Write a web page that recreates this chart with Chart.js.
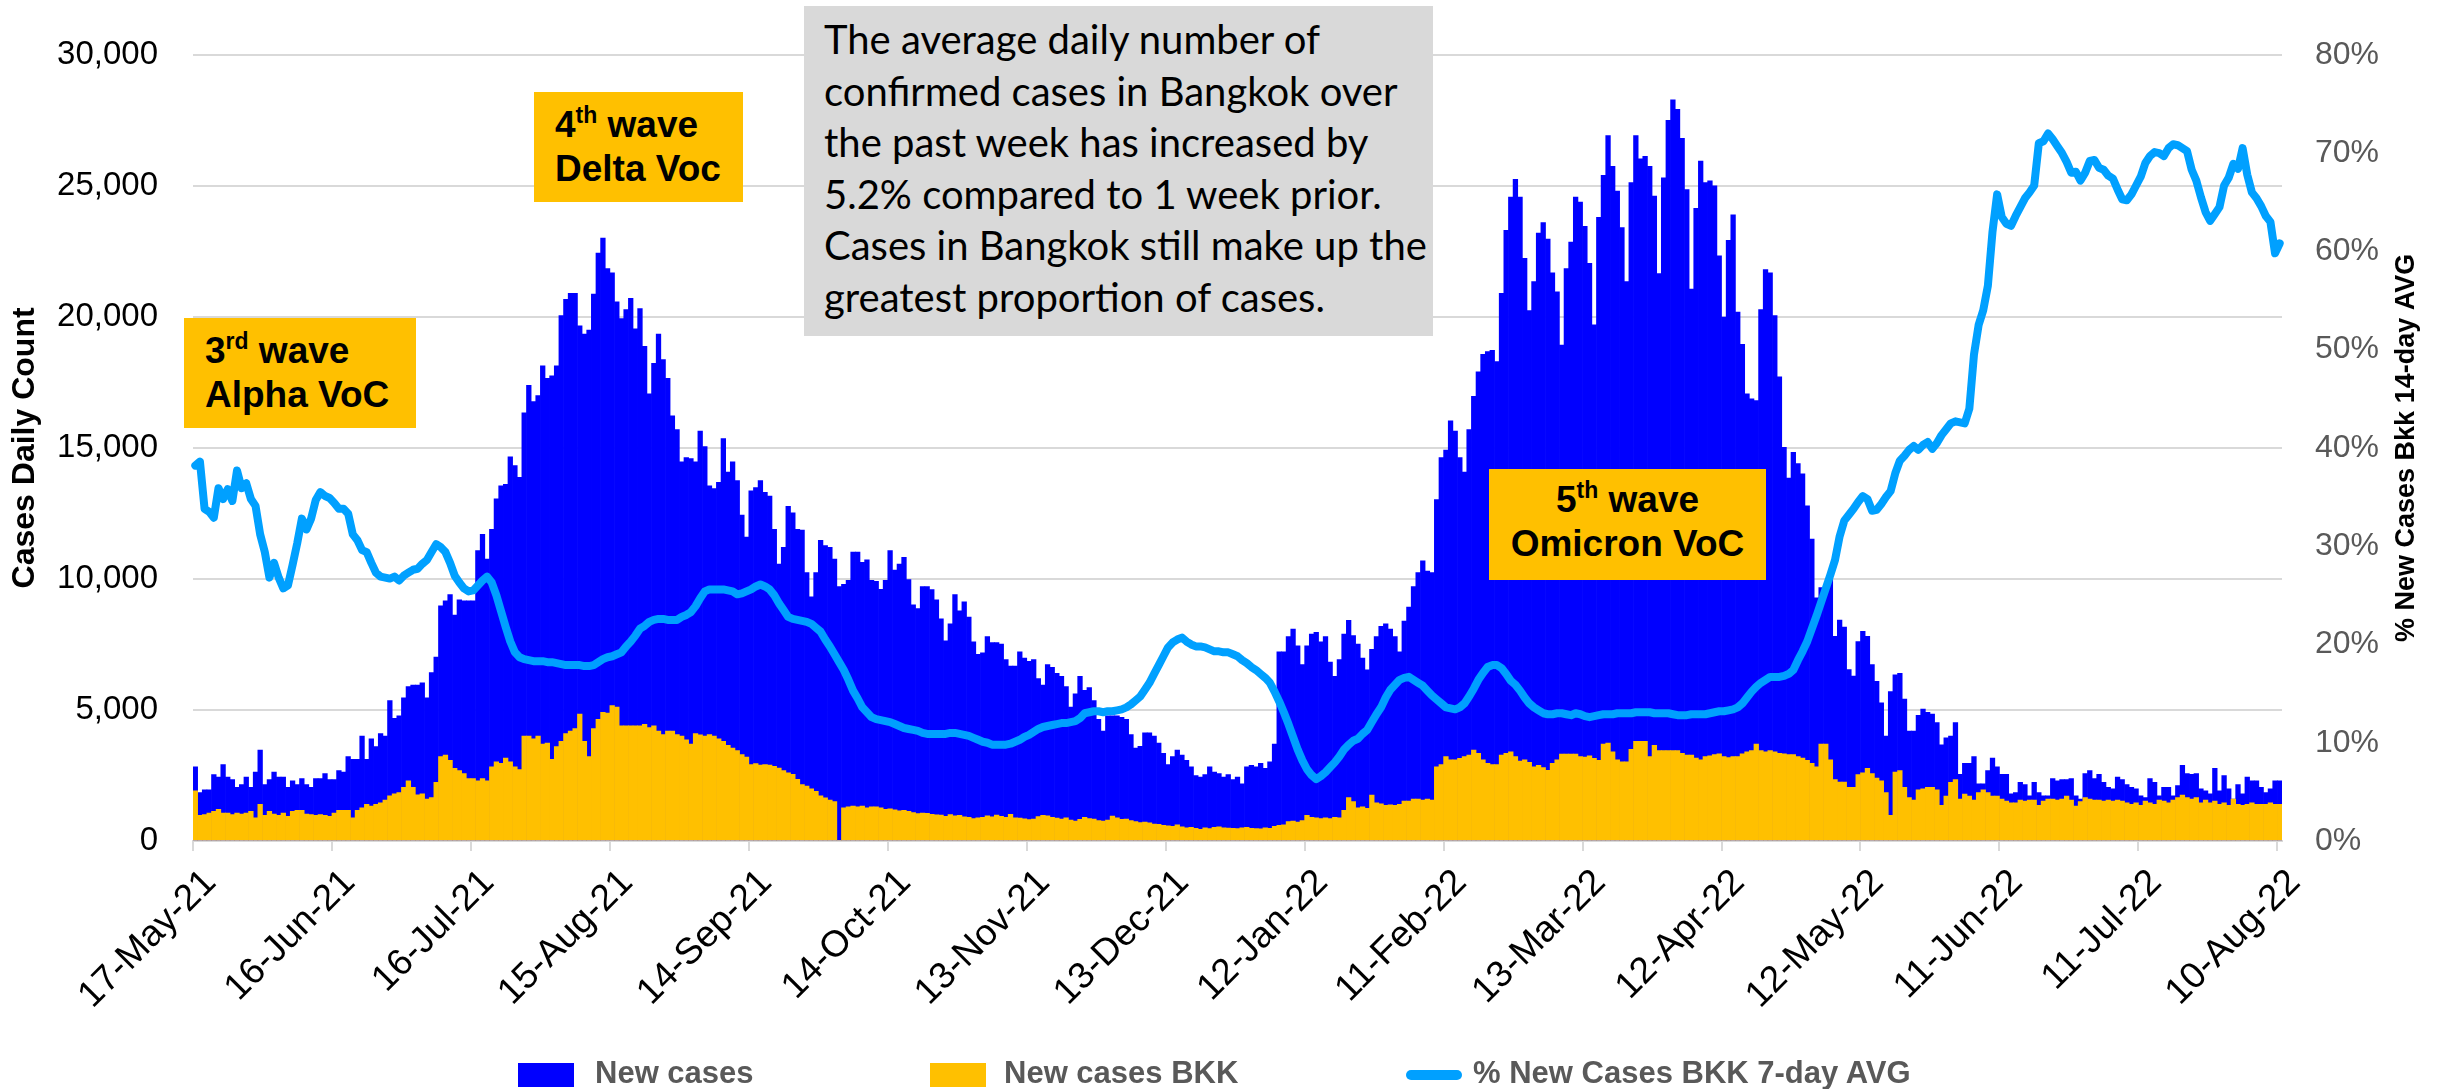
<!DOCTYPE html>
<html>
<head>
<meta charset="utf-8">
<script src="https://cdn.jsdelivr.net/npm/chart.js@4.4.1/dist/chart.umd.min.js"></script>
<style>
  html, body { margin: 0; padding: 0; background: #fff; overflow: hidden; }
  #wrap { position: relative; width: 2442px; height: 1089px; overflow: hidden; }
  #chart { position: absolute; left: 0; top: 0; }
  .note {
    position: absolute; box-sizing: border-box; background: #d9d9d9;
    font-family: Lato, sans-serif; font-size: 40px; line-height: 51.5px; color: #000;
    white-space: nowrap;
  }
  .wave {
    position: absolute; box-sizing: border-box; background: #ffc000;
    font-family: 'Liberation Sans', Arial, sans-serif; font-weight: bold;
    font-size: 37px; line-height: 44px; color: #000; white-space: nowrap;
  }
  .wave sup { font-size: 23px; line-height: 0; vertical-align: 14px; }
  .lg-mark { position: absolute; }
  .lg-text {
    position: absolute; top: 1057px; line-height: 31px; white-space: nowrap;
    font-family: 'Liberation Sans', Arial, sans-serif; font-weight: bold;
    font-size: 31px; color: #595959;
  }
</style>
</head>
<body>
<div id="wrap">
  <canvas id="chart" width="2442" height="1089"></canvas>

  <div class="note" style="left:804px; top:6px; width:629px; height:330px; padding:8px 0 0 20px;">
    The average daily number of<br>
    confirmed cases in Bangkok over<br>
    the past week has increased by<br>
    5.2% compared to 1 week prior.<br>
    Cases in Bangkok still make up the<br>
    greatest proportion of cases.
  </div>

  <div class="wave" style="left:184px; top:318px; width:232px; height:110px; padding:11px 0 0 21px;">
    3<sup>rd</sup> wave<br>Alpha VoC
  </div>
  <div class="wave" style="left:534px; top:92px; width:209px; height:110px; padding:11px 0 0 21px;">
    4<sup>th</sup> wave<br>Delta Voc
  </div>
  <div class="wave" style="left:1489px; top:469px; width:277px; height:111px; padding-top:9px; text-align:center;">
    5<sup>th</sup> wave<br>Omicron VoC
  </div>

  <div id="legend"></div>
</div>

<script>
// daily values, one per day starting 17-May-21
const startDate = Date.UTC(2021, 4, 17);

const newCases = [
  2830,1850,1950,1950,2530,2440,2920,2440,2340,2050,
  2150,2440,2050,2630,3470,2150,2340,2630,2440,2440,
  2050,2300,2150,2380,2150,2050,2380,2380,2570,2340,
  2340,2690,2630,3220,3120,3120,4000,3120,3900,3600,
  4100,4000,5360,4680,4780,5460,5890,5950,5950,6040,
  5460,6430,7020,8970,9160,9400,8620,9200,9160,9160,
  9160,11080,11700,10760,11890,13060,13550,13610,14660,14330,
  13880,16340,17390,16770,17000,18135,17650,17750,18135,20050,
  20670,20900,20900,19660,19340,19500,20870,22430,23010,21840,
  21680,20570,19930,20280,20710,19540,20320,18880,17060,18230,
  19340,18370,17650,16220,15700,14470,14630,14590,14470,15640,
  15050,13550,13450,13690,15360,14080,14470,13750,12440,11600,
  13360,13490,13750,13300,13160,11890,10570,11210,12770,12520,
  11890,11860,10240,9320,10240,11470,11270,11210,10760,9710,
  9790,9950,11020,11020,10630,10730,9950,9910,9600,9950,
  11080,10340,10570,10820,9980,9010,8870,9710,9710,9590,
  9200,8480,7640,8290,9400,8780,9130,8540,7600,7120,
  7180,7800,7570,7570,7510,6920,6670,6670,7220,6980,
  6860,6920,6200,5950,6730,6630,6400,6280,5890,5110,
  5620,6280,5750,5850,5360,4640,4190,4780,4780,4780,
  4720,4640,4060,3550,3610,4130,4130,4000,3740,3350,
  2920,3220,3470,3280,3080,2830,2500,2440,2530,2830,
  2630,2570,2440,2530,2340,2440,2180,2830,2890,2830,
  2960,2770,3020,3700,7220,7220,7800,8090,7450,6730,
  7450,7900,7960,7600,7800,6830,6280,6920,7900,8420,
  7840,7510,6980,6530,7310,7800,8190,8290,8090,7800,
  7220,8390,8930,9710,10240,10690,10300,10240,13030,14630,
  14920,16030,15640,14630,14080,15700,16970,17900,18570,18680,
  18720,18290,20900,23300,24570,25250,24570,22230,20240,21350,
  23200,23600,22970,21680,20960,18920,21840,22850,24570,24380,
  23450,22040,19700,23800,25400,26920,25740,24800,23410,21350,
  25120,26920,26030,26130,25740,24610,21650,25310,27500,28280,
  27920,26810,24860,21060,24140,25940,25120,25190,25000,22330,
  19990,22920,23890,20180,18950,17060,16870,16810,20280,21800,
  21680,20050,17710,15020,13850,14830,14400,14010,12790,11520,
  9280,9670,9610,10050,7810,8430,8160,6540,6290,7610,
  8000,7810,6730,6090,5270,4000,5700,6340,6400,5420,
  4190,4190,4800,5030,4910,4840,4520,3670,3940,4000,
  4520,2540,2960,2960,3220,2180,2180,2690,3160,2830,
  2540,2540,1800,1850,2240,2150,1720,2240,1850,1720,
  1720,2380,2300,2340,2340,2380,1720,1600,2570,2690,
  2380,2540,2240,2050,1990,2440,2340,2150,2050,1990,
  1720,1660,2380,2240,1720,2050,2050,1720,2110,2890,
  2570,2540,2570,1990,1910,1800,2770,1910,2500,1990,
  1600,2150,1800,2440,2300,2300,2050,1850,1990,2300,
  2300
];

const newCasesBkk = [
  1910,975,1010,1070,1130,1210,1070,1070,1010,1070,
  1030,1070,1130,880,1400,975,1130,1030,975,1070,
  940,1130,1170,1170,1030,1010,975,1010,975,940,
  1070,1170,1170,1170,880,1170,1270,1400,1330,1400,
  1460,1560,1720,1800,1850,2050,2300,2050,1760,1800,
  1600,1660,2240,3220,3280,3080,2770,2690,2570,2380,
  2380,2300,2380,2300,2830,3020,2960,3160,3020,2830,
  2730,4000,4000,3900,4000,3700,3740,3120,3600,3800,
  4100,4190,4290,4840,3800,3220,4290,4640,4910,4880,
  5170,5110,4390,4390,4390,4390,4390,4450,4330,4390,
  4190,4060,4190,4190,4060,4000,3860,3700,4100,4050,
  4000,4060,4000,3900,3800,3650,3550,3450,3300,3200,
  2920,2950,2900,2920,2900,2850,2780,2690,2600,2540,
  2350,2150,2100,1990,1900,1720,1650,1560,1500,0,
  1270,1300,1330,1300,1330,1270,1300,1300,1270,1210,
  1230,1190,1150,1170,1130,1080,1050,1070,1060,1020,
  1000,990,940,1010,960,980,920,900,860,880,
  900,960,920,990,940,900,1020,880,870,850,
  820,840,930,980,960,900,870,840,880,800,
  760,830,900,860,840,780,760,800,950,880,
  830,840,780,740,700,720,690,650,640,600,
  580,560,620,540,500,520,480,450,500,470,
  520,540,500,490,480,470,500,520,480,470,
  460,500,480,560,600,620,740,760,720,780,
  975,900,880,860,880,860,900,880,1170,1660,
  1500,1270,1300,1250,1755,1460,1420,1365,1380,1365,
  1400,1520,1520,1600,1600,1560,1600,1560,2830,2920,
  3220,3100,3100,3150,3220,3280,3470,3350,3100,2960,
  2920,2920,3280,3350,3400,3220,3050,3100,3000,2830,
  2890,2800,2700,2960,3100,3320,3320,3320,3320,3220,
  3200,3250,3150,3080,3700,3740,3400,3100,3020,3020,
  3500,3800,3800,3800,3220,3650,3450,3450,3450,3450,
  3450,3350,3280,3280,3160,3100,3220,3250,3300,3330,
  3220,3180,3220,3220,3330,3400,3450,3700,3450,3400,
  3450,3400,3350,3330,3300,3300,3220,3160,3080,2960,
  2830,3700,3700,3100,2340,2250,2250,2050,2050,2530,
  2600,2770,2570,2400,2300,1850,975,2630,2690,2050,
  1660,1560,1950,1990,2050,2050,1950,1365,1716,2240,
  2340,1600,1794,1716,1560,1850,1950,1850,1716,1716,
  1600,1520,1460,1460,1560,1520,1560,1560,1365,1520,
  1600,1600,1560,1600,1716,1560,1330,1500,1660,1600,
  1560,1560,1520,1560,1520,1560,1520,1460,1400,1460,
  1365,1520,1460,1400,1560,1520,1460,1560,1660,1755,
  1660,1600,1660,1460,1560,1460,1520,1400,1460,1365,
  1600,1400,1365,1400,1460,1400,1400,1400,1460,1400,
  1400
];

const bkkShare = [
  38.2,38.6,33.8,33.5,32.9,35.9,34.8,35.8,34.6,37.7,
  35.9,36.4,34.8,34.1,31.2,29.4,26.8,28.3,26.8,25.7,
  26.0,28.1,30.3,32.8,31.7,32.8,34.7,35.5,35.1,34.9,
  34.4,33.8,33.8,33.3,31.2,30.6,29.6,29.4,28.3,27.3,
  26.9,26.8,26.7,26.9,26.5,27.0,27.3,27.6,27.7,28.2,
  28.6,29.4,30.2,29.9,29.4,28.3,27.0,26.3,25.7,25.4,
  25.5,26.0,26.5,26.9,26.3,25.0,23.4,21.8,20.3,19.2,
  18.7,18.5,18.4,18.3,18.3,18.3,18.2,18.2,18.1,18.0,
  17.9,17.9,17.9,17.9,17.8,17.8,17.9,18.2,18.5,18.7,
  18.8,19.0,19.2,19.8,20.3,20.9,21.6,21.9,22.3,22.5,
  22.6,22.6,22.5,22.5,22.5,22.8,23.0,23.3,23.9,24.7,
  25.4,25.6,25.6,25.6,25.6,25.5,25.4,25.1,25.2,25.4,
  25.6,25.9,26.1,25.9,25.6,25.0,24.2,23.5,22.8,22.6,
  22.5,22.4,22.3,22.1,21.7,21.3,20.5,19.8,19.0,18.2,
  17.4,16.4,15.3,14.5,13.6,13.1,12.6,12.4,12.3,12.2,
  12.1,11.9,11.7,11.5,11.4,11.3,11.2,11.0,10.9,10.9,
  10.9,10.9,10.9,11.0,11.0,10.9,10.8,10.7,10.5,10.3,
  10.1,10.0,9.8,9.8,9.8,9.8,9.9,10.1,10.3,10.6,
  10.8,11.1,11.4,11.6,11.7,11.8,11.9,12.0,12.0,12.1,
  12.2,12.5,13.0,13.1,13.2,13.2,13.1,13.2,13.2,13.3,
  13.4,13.6,13.9,14.3,14.7,15.4,16.1,17.0,17.9,18.8,
  19.7,20.2,20.5,20.7,20.3,20.0,19.8,19.8,19.7,19.5,
  19.3,19.3,19.2,19.2,19.0,18.8,18.4,18.1,17.7,17.4,
  17.0,16.6,16.1,15.2,14.2,13.1,11.9,10.6,9.3,8.2,
  7.3,6.7,6.3,6.6,7.0,7.5,8.0,8.6,9.3,9.8,
  10.2,10.4,10.9,11.3,12.1,12.9,13.6,14.6,15.4,15.9,
  16.4,16.6,16.7,16.4,16.1,15.8,15.3,14.8,14.4,14.0,
  13.6,13.5,13.4,13.6,14.0,14.7,15.5,16.4,17.1,17.7,
  17.9,17.9,17.6,17.0,16.3,15.9,15.3,14.6,14.0,13.6,
  13.3,13.0,12.9,12.9,13.0,13.0,12.9,12.8,13.0,12.9,
  12.7,12.6,12.7,12.8,12.9,12.9,12.9,13.0,13.0,13.0,
  13.0,13.1,13.1,13.1,13.1,13.0,13.0,13.0,13.0,12.9,
  12.8,12.8,12.8,12.9,12.9,12.9,12.9,13.0,13.1,13.2,
  13.2,13.3,13.4,13.6,14.0,14.6,15.2,15.7,16.1,16.4,
  16.7,16.7,16.7,16.8,17.0,17.4,18.4,19.3,20.3,21.6,
  22.9,24.3,25.7,27.1,28.6,31.0,32.6,33.2,33.8,34.5,
  35.1,34.8,33.6,33.7,34.3,35.0,35.6,37.4,38.7,39.2,
  39.8,40.2,39.8,40.3,40.6,39.9,40.5,41.3,41.9,42.5,
  42.7,42.6,42.5,44.0,49.5,52.5,54.0,56.5,62.0,65.8,
  63.5,62.8,62.6,63.6,64.5,65.4,66.0,66.7,71.0,71.2,
  72.0,71.4,70.7,70.0,69.1,68.0,68.1,67.2,68.0,69.2,
  69.3,68.5,68.3,67.7,67.4,66.3,65.3,65.2,65.8,66.7,
  67.6,69.0,69.7,70.1,70.0,69.7,70.5,70.9,70.8,70.5,
  70.2,68.3,67.2,65.5,64.0,63.1,63.8,64.5,66.7,67.5,
  68.9,68.4,70.5,67.8,66.0,65.4,64.6,63.6,63.0,59.8,
  60.8
];

const seriesNames = ['New cases', 'New cases BKK', '% New Cases BKK 7-day AVG'];
const monthNames = ['Jan','Feb','Mar','Apr','May','Jun','Jul','Aug','Sep','Oct','Nov','Dec'];
const tickEvery = 30;

const blue = '#0000ff';
const gold = '#ffc000';
const lineBlue = '#00a0ff';
const sans = "'Liberation Sans', Arial, sans-serif";

// one label per day, e.g. 17-May-21
const days = newCases.map((v, i) => {
  const d = new Date(startDate + i * 86400000);
  return d.getUTCDate() + '-' + monthNames[d.getUTCMonth()] + '-' + String(d.getUTCFullYear()).slice(2);
});

// legend under the chart, same look as the original
const legendItems = [
  { mark: 'left:518px; top:1063px; width:56px; height:24px; background:' + blue, textLeft: 595 },
  { mark: 'left:930px; top:1063px; width:56px; height:24px; background:' + gold, textLeft: 1004 },
  { mark: 'left:1406px; top:1070px; width:56px; height:10px; border-radius:5px; background:' + lineBlue, textLeft: 1473 }
];
const legendBox = document.getElementById('legend');
legendItems.forEach((it, i) => {
  const m = document.createElement('span');
  m.className = 'lg-mark';
  m.style.cssText = it.mark;
  legendBox.appendChild(m);
  const t = document.createElement('span');
  t.className = 'lg-text';
  t.style.left = it.textLeft + 'px';
  t.textContent = seriesNames[i];
  legendBox.appendChild(t);
});

const rightTitle = {
  id: 'rightTitle',
  afterDraw(chart) {
    const ctx = chart.ctx;
    const area = chart.chartArea;
    ctx.save();
    ctx.translate(chart.scales.y1.right - 35, (area.top + area.bottom) / 2);
    ctx.rotate(-Math.PI / 2);
    ctx.font = 'bold 27px ' + sans;
    ctx.fillStyle = '#000';
    ctx.textAlign = 'center';
    ctx.textBaseline = 'middle';
    ctx.fillText('% New Cases Bkk 14-day AVG', 0, 0);
    ctx.restore();
  }
};

new Chart(document.getElementById('chart'), {
  type: 'bar',
  data: {
    labels: days,
    datasets: [{
      type: 'bar',
      label: seriesNames[0],
      data: newCases,
      backgroundColor: blue,
      borderWidth: 0,
      grouped: false,
      barPercentage: 1,
      categoryPercentage: 1,
      yAxisID: 'y',
      order: 2
    }, {
      type: 'bar',
      label: seriesNames[1],
      data: newCasesBkk,
      backgroundColor: gold,
      borderWidth: 0,
      grouped: false,
      barPercentage: 1,
      categoryPercentage: 1,
      yAxisID: 'y',
      order: 1
    }, {
      type: 'line',
      label: seriesNames[2],
      data: bkkShare,
      borderColor: lineBlue,
      backgroundColor: lineBlue,
      borderWidth: 8,
      borderJoinStyle: 'round',
      borderCapStyle: 'round',
      pointRadius: 0,
      tension: 0,
      yAxisID: 'y1',
      order: 0
    }]
  },
  options: {
    responsive: false,
    animation: false,
    devicePixelRatio: 1,
    layout: { padding: { top: 46, left: 0, right: 0, bottom: 0 } },
    plugins: {
      tooltip: { enabled: false },
      legend: { display: false }
    },
    scales: {
      x: {
        offset: true,
        grid: {
          offset: true,
          drawOnChartArea: false,
          drawTicks: true,
          tickLength: 10,
          lineWidth: 2,
          color: c => (c.index % tickEvery === 0 ? '#d9d9d9' : 'rgba(0,0,0,0)')
        },
        border: { display: true, color: '#d9d9d9', width: 2 },
        ticks: {
          autoSkip: false,
          minRotation: 45,
          maxRotation: 45,
          padding: 10,
          labelOffset: 15,
          color: '#000',
          font: { family: sans, size: 37 },
          callback: function (v, i) {
            return i % tickEvery === 0 ? this.getLabelForValue(v) : '';
          }
        },
        afterFit: s => { s.height = 248; }
      },
      y: {
        position: 'left',
        min: 0,
        max: 30000,
        ticks: {
          stepSize: 5000,
          padding: 35,
          color: '#000',
          font: { family: sans, size: 33 },
          callback: v => v.toLocaleString('en-US')
        },
        grid: { color: '#d9d9d9', lineWidth: 2, drawTicks: false },
        border: { display: false },
        title: {
          display: true,
          text: 'Cases Daily Count',
          color: '#000',
          font: { family: sans, size: 32, weight: 'bold' },
          padding: { top: 6, bottom: 0 }
        },
        afterFit: s => { s.width = 193; }
      },
      y1: {
        position: 'right',
        min: 0,
        max: 80,
        ticks: {
          stepSize: 10,
          padding: 33,
          color: '#595959',
          font: { family: sans, size: 32 },
          callback: v => v + '%'
        },
        grid: { display: false, drawTicks: false },
        border: { display: false },
        afterFit: s => { s.width = 160; }
      }
    }
  },
  plugins: [rightTitle]
});
</script>
</body>
</html>
